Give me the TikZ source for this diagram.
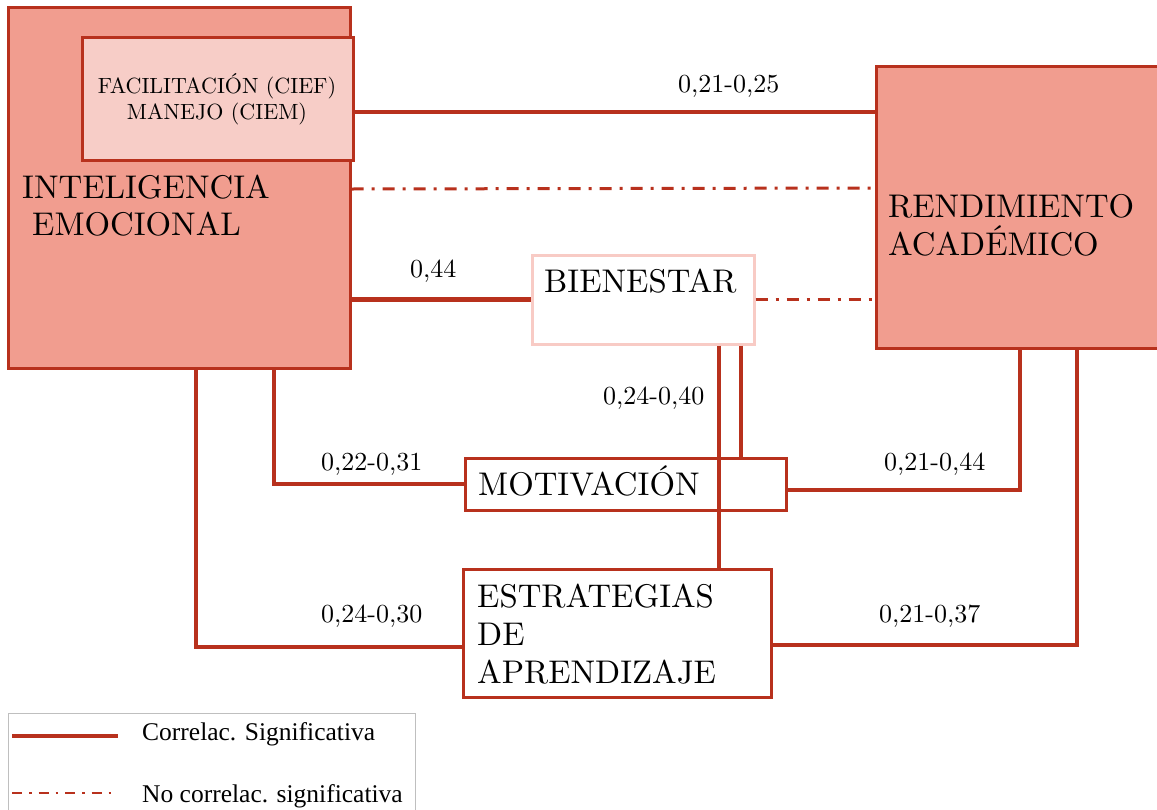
\documentclass[tikz,border=0pt]{standalone}
\usepackage{fontspec}
\newfontfamily\legfont{Liberation Serif}
\newfontfamily\cmfont{lmroman10-regular.otf}
\usetikzlibrary{positioning}
\definecolor{cLine}{HTML}{B8311D}
\definecolor{cBox}{HTML}{F19D8F}
\definecolor{cInner}{HTML}{F7CDC7}
\definecolor{cPale}{HTML}{F8CBC5}
\definecolor{cLeg}{HTML}{BFBFBF}

\begin{document}
\begin{tikzpicture}[x=1pt, y=-1pt,
  box/.style={rectangle, draw=cLine, line width=3pt, inner sep=0pt},
  sig/.style={draw=cLine, line width=4.3pt},
  nosig/.style={draw=cLine, line width=3pt, dash pattern=on 12pt off 8pt on 3pt off 8pt},
  big/.style={font=\cmfont\fontsize{32.8}{38}\selectfont, inner sep=0pt, anchor=base west},
  small/.style={font=\cmfont\fontsize{22}{25}\selectfont, inner sep=0pt, anchor=base},
  num/.style={font=\cmfont\fontsize{26}{30}\selectfont, inner sep=0pt, anchor=base west},
  legtxt/.style={font=\legfont\fontsize{25.5}{30}\selectfont, inner sep=0pt, anchor=base west},
]
\useasboundingbox (0,0) rectangle (1157,809);
% boxes
\node[box, fill=cBox, minimum width=342pt, minimum height=361pt] (ie) at (179,187.5) {};
\node[box, fill=cInner, minimum width=271pt, minimum height=123pt] (cief) at (217.5,98.5) {};
\node[box, fill=cBox, minimum width=284pt, minimum height=282pt] (ra) at (1018,207) {};
\node[box, draw=cPale, fill=white, minimum width=222pt, minimum height=89pt] (bien) at (643,299.5) {};
\node[box, fill=white, minimum width=321pt, minimum height=52pt] (mot) at (625.5,484) {};
\node[box, fill=white, minimum width=308pt, minimum height=128pt] (est) at (617.5,633.5) {};
% texts
\node[big] at (22,198) {INTELIGENCIA};
\node[big] at (32,235) {EMOCIONAL};
\node[small] at (217,93) {FACILITACIÓN (CIEF)};
\node[small] at (217,119) {MANEJO (CIEM)};
\node[big] at (888,217) {RENDIMIENTO};
\node[big] at (888,255) {ACADÉMICO};
\node[big] at (544,292) {BIENESTAR};
\node[big] at (478,495) {MOTIVACIÓN};
\node[big] at (477,607) {ESTRATEGIAS};
\node[big] at (477,645) {DE};
\node[big] at (477,683) {APRENDIZAJE};
% connectors
\draw[sig] (cief.east |- 0,112) -- (ra.west |- 0,112);
\draw[nosig] (ie.east |- 0,189) -- (ra.west |- 0,188);
\draw[sig] (ie.east |- bien.west) -- (bien.west);
\draw[nosig] (bien.east) -- (bien.east -| ra.west);
\draw[sig] (bien.south -| 719,0) -- (est.north -| 719,0);
\draw[sig] (bien.south -| 741,0) -- (mot.north -| 741,0);
\draw[sig] (ie.south -| 274,0) |- (mot.west);
\draw[sig] (ie.south -| 196,0) |- ([yshift=-13.5pt]est.west);
\draw[sig] ([yshift=-6pt]mot.east) -| (ra.south -| 1020,0);
\draw[sig] ([yshift=-11.5pt]est.east) -| (ra.south -| 1077,0);
% values
\node[num] at (678,92) {0,21-0,25};
\node[num] at (410,277) {0,44};
\node[num] at (603,404) {0,24-0,40};
\node[num] at (321,470) {0,22-0,31};
\node[num] at (884,470) {0,21-0,44};
\node[num] at (321,622) {0,24-0,30};
\node[num] at (879,622) {0,21-0,37};
% legend
\node[rectangle, draw=cLeg, line width=1.2pt, minimum width=407pt, minimum height=110pt, anchor=north west] (leg) at (8,713) {};
\draw[sig] (12,736) -- (118,736);
\draw[nosig, line width=2.3pt, dash pattern=on 10pt off 7pt on 2.5pt off 7pt] (12,793) -- (116,793);
\node[legtxt] at (142,740) {Correlac. Significativa};
\node[legtxt] at (142,802) {No correlac. significativa};
\end{tikzpicture}
\end{document}
